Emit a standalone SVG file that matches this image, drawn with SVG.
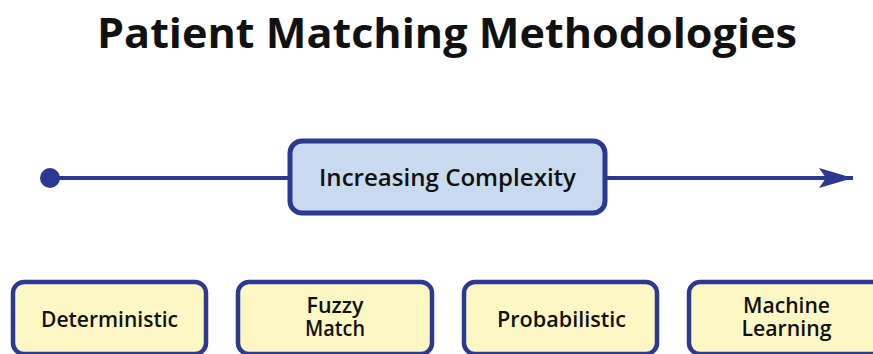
<svg xmlns="http://www.w3.org/2000/svg" width="873" height="354" viewBox="0 0 873 354">
<defs>
<style>
.t{font-family:"Open Sans","Noto Sans","Liberation Sans",sans-serif;fill:#111;text-anchor:middle}
.title{font-size:41px;font-weight:700}
.lbl{font-size:21px;font-weight:600}
.ctr{font-size:24px;font-weight:600}
.box{fill:#fdf8c3;stroke:#2b3990;stroke-width:4.5}
.main{fill:#c9d9f0;stroke:#2b3990;stroke-width:5}
.ln{stroke:#2b3990;stroke-width:4;fill:none}
</style>
<marker id="ah" markerUnits="userSpaceOnUse" markerWidth="36" markerHeight="24" refX="34" refY="12" orient="auto">
<path d="M0,2 L34,12 L0,22 L7,12 Z" fill="#2b3990"/>
</marker>
</defs>
<rect width="873" height="354" fill="#fff"/>
<text class="t title" x="447" y="48" textLength="700" lengthAdjust="spacingAndGlyphs">Patient Matching Methodologies</text>
<g id="connectors">
<line class="ln" x1="50" y1="178" x2="290" y2="178"/>
<line class="ln" x1="605" y1="178" x2="853" y2="178" marker-end="url(#ah)"/>
<circle cx="50" cy="178" r="10" fill="#2b3990"/>
</g>
<g id="complexity">
<rect class="main" x="290" y="141" width="315" height="72" rx="12"/>
<text class="t ctr" x="447.5" y="186" textLength="257" lengthAdjust="spacingAndGlyphs">Increasing Complexity</text>
</g>
<g id="deterministic">
<rect class="box" x="13" y="282" width="193" height="72" rx="11"/>
<text class="t lbl" x="109.5" y="327" textLength="137" lengthAdjust="spacingAndGlyphs">Deterministic</text>
</g>
<g id="fuzzy">
<rect class="box" x="238" y="282" width="194" height="72" rx="11"/>
<text class="t lbl" x="335" y="313" textLength="57" lengthAdjust="spacingAndGlyphs">Fuzzy</text>
<text class="t lbl" x="335" y="336" textLength="60" lengthAdjust="spacingAndGlyphs">Match</text>
</g>
<g id="probabilistic">
<rect class="box" x="464" y="282" width="193" height="72" rx="11"/>
<text class="t lbl" x="561.5" y="327" textLength="129" lengthAdjust="spacingAndGlyphs">Probabilistic</text>
</g>
<g id="ml">
<rect class="box" x="689" y="282" width="194" height="72" rx="11"/>
<text class="t lbl" x="786.5" y="313" textLength="87" lengthAdjust="spacingAndGlyphs">Machine</text>
<text class="t lbl" x="786.5" y="336" textLength="90" lengthAdjust="spacingAndGlyphs">Learning</text>
</g>
</svg>
